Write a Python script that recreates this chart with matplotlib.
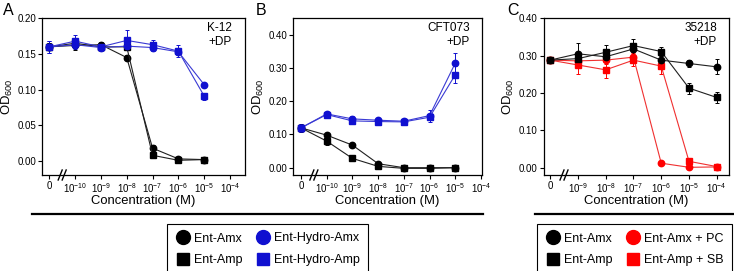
import matplotlib
matplotlib.use("Agg")
import matplotlib.pyplot as plt
from matplotlib.lines import Line2D
import numpy as np

plt.rcParams['font.family'] = ['Liberation Sans', 'DejaVu Sans']
plt.rcParams['mathtext.fontset'] = 'custom'
plt.rcParams['mathtext.rm'] = 'Liberation Sans'
plt.rcParams['mathtext.it'] = 'Liberation Sans:italic'
plt.rcParams['mathtext.bf'] = 'Liberation Sans:bold'

# ---------------- data ----------------
# Panel A (K-12 +DP): x positions 0 -> "0", 1 -> 1e-10 ... 6 -> 1e-5
a_ticklabels = ['0', r'10$^{-10}$', r'10$^{-9}$', r'10$^{-8}$', r'10$^{-7}$',
                r'10$^{-6}$', r'10$^{-5}$', r'10$^{-4}$']
a_amx = [0.160, 0.162, 0.163, 0.145, 0.018, 0.003, 0.002]
a_amx_err = [0.005, 0.006, 0.004, 0.004, 0.004, 0.002, 0.001]
a_amp = [0.160, 0.165, 0.160, 0.160, 0.008, 0.001, 0.002]
a_amp_err = [0.005, 0.005, 0.004, 0.005, 0.003, 0.001, 0.001]
a_hamx = [0.160, 0.163, 0.159, 0.161, 0.159, 0.153, 0.107]
a_hamx_err = [0.008, 0.006, 0.005, 0.004, 0.005, 0.005, 0.002]
a_hamp = [0.160, 0.168, 0.160, 0.169, 0.163, 0.154, 0.091]
a_hamp_err = [0.008, 0.009, 0.005, 0.014, 0.006, 0.008, 0.005]

# Panel B (CFT073 +DP)
b_ticklabels = a_ticklabels
b_amx = [0.120, 0.098, 0.068, 0.012, 0.000, 0.000, 0.000]
b_amx_err = [0.010, 0.005, 0.005, 0.004, 0.002, 0.002, 0.002]
b_amp = [0.120, 0.080, 0.028, 0.004, -0.002, -0.002, 0.000]
b_amp_err = [0.010, 0.013, 0.005, 0.003, 0.002, 0.002, 0.002]
b_hamx = [0.120, 0.162, 0.147, 0.143, 0.140, 0.157, 0.315]
b_hamx_err = [0.012, 0.005, 0.008, 0.005, 0.006, 0.018, 0.030]
b_hamp = [0.120, 0.160, 0.141, 0.139, 0.138, 0.152, 0.280]
b_hamp_err = [0.012, 0.005, 0.006, 0.005, 0.005, 0.008, 0.025]

# Panel C (35218 +DP): x positions 0 -> "0", 1 -> 1e-9 ... 6 -> 1e-4
c_ticklabels = ['0', r'10$^{-9}$', r'10$^{-8}$', r'10$^{-7}$', r'10$^{-6}$',
                r'10$^{-5}$', r'10$^{-4}$']
c_amx = [0.288, 0.305, 0.297, 0.318, 0.288, 0.279, 0.270]
c_amx_err = [0.006, 0.028, 0.010, 0.015, 0.010, 0.010, 0.020]
c_amp = [0.288, 0.292, 0.309, 0.327, 0.311, 0.213, 0.188]
c_amp_err = [0.006, 0.012, 0.020, 0.017, 0.012, 0.015, 0.015]
c_amx_pc = [0.288, 0.286, 0.288, 0.296, 0.012, 0.001, 0.002]
c_amx_pc_err = [0.006, 0.010, 0.010, 0.010, 0.005, 0.003, 0.003]
c_amp_sb = [0.288, 0.275, 0.262, 0.288, 0.272, 0.017, 0.003]
c_amp_sb_err = [0.006, 0.025, 0.022, 0.015, 0.022, 0.005, 0.003]

legend1_labels = ['Ent-Amx', 'Ent-Amp', 'Ent-Hydro-Amx', 'Ent-Hydro-Amp']
legend2_labels = ['Ent-Amx', 'Ent-Amp', 'Ent-Amx + PC', 'Ent-Amp + SB']

BLUE = '#1010d0'
BLUE_L = '#3a3ad4'
RED = '#ff0000'
RED_L = '#f03030'
BLACK = '#000000'
BLACK_L = '#202020'

W, H = 734, 271
fig = plt.figure(figsize=(W / 100, H / 100), dpi=100)


def axes_px(left, right, top, bottom):
    return fig.add_axes([left / W, 1 - bottom / H, (right - left) / W, (bottom - top) / H])


def series(ax, y, err, marker, mcolor, lcolor):
    x = np.arange(len(y))
    ax.errorbar(x, y, yerr=err, fmt='-', marker=marker, color=lcolor, mfc=mcolor,
                mec=mcolor, ecolor=mcolor, elinewidth=0.7, capsize=1.3, capthick=0.7,
                lw=0.8, markersize=4.6 if marker == 'o' else 4.4, clip_on=False, zorder=3)


def style(ax, xlim, ylim, yticks, ticklabels, note):
    ax.set_xlim(*xlim)
    ax.set_ylim(*ylim)
    ax.set_yticks(yticks)
    ax.set_yticklabels(['%.2f' % v for v in yticks])
    ax.set_xticks(np.arange(len(ticklabels)))
    ax.set_xticklabels(ticklabels)
    ax.tick_params(direction='out', length=3, width=0.8, labelsize=7.0, pad=1.5)
    for s in ax.spines.values():
        s.set_linewidth(0.9)
    ax.set_xlabel('Concentration (M)', fontsize=9.4, labelpad=0)
    ax.set_ylabel(r'OD$_{600}$', fontsize=9.4, labelpad=2)
    ax.text(0.935, 0.975, note, transform=ax.transAxes, ha='right', va='top',
            fontsize=8.5, linespacing=1.15)
    # axis break marks "//" at x = 0.5
    bb = ax.get_position()
    wpx = bb.width * W
    hpx = bb.height * H
    xc = (0.5 - xlim[0]) / (xlim[1] - xlim[0])
    for dx in (-2.0, 2.0):
        x0 = xc + (dx - 2.0) / wpx
        x1 = xc + (dx + 2.0) / wpx
        ax.plot([x0, x1], [-5.0 / hpx, 5.0 / hpx], transform=ax.transAxes,
                color='k', lw=1.0, clip_on=False, zorder=5)


# ---------- Panel A ----------
axA = axes_px(42.3, 245, 18.3, 175)
series(axA, a_amx, a_amx_err, 'o', BLACK, BLACK_L)
series(axA, a_amp, a_amp_err, 's', BLACK, BLACK_L)
series(axA, a_hamx, a_hamx_err, 'o', BLUE, BLUE_L)
series(axA, a_hamp, a_hamp_err, 's', BLUE, BLUE_L)
style(axA, (-0.27, 7.58), (-0.0196, 0.20), [0.00, 0.05, 0.10, 0.15, 0.20],
      a_ticklabels, 'K-12\n+DP')

# ---------- Panel B ----------
axB = axes_px(293.3, 482, 18.3, 175)
series(axB, b_amx, b_amx_err, 'o', BLACK, BLACK_L)
series(axB, b_amp, b_amp_err, 's', BLACK, BLACK_L)
series(axB, b_hamx, b_hamx_err, 'o', BLUE, BLUE_L)
series(axB, b_hamp, b_hamp_err, 's', BLUE, BLUE_L)
style(axB, (-0.30, 7.04), (-0.022, 0.45), [0.00, 0.10, 0.20, 0.30, 0.40],
      b_ticklabels, 'CFT073\n+DP')

# ---------- Panel C ----------
axC = axes_px(544, 729, 18.3, 175)
series(axC, c_amx_pc, c_amx_pc_err, 'o', RED, RED_L)
series(axC, c_amp_sb, c_amp_sb_err, 's', RED, RED_L)
series(axC, c_amx, c_amx_err, 'o', BLACK, BLACK_L)
series(axC, c_amp, c_amp_err, 's', BLACK, BLACK_L)
style(axC, (-0.22, 6.44), (-0.0196, 0.40), [0.00, 0.10, 0.20, 0.30, 0.40],
      c_ticklabels, '35218\n+DP')

# panel letters
for x, letter in ((3, 'A'), (256, 'B'), (507, 'C')):
    fig.text(x / W, 1 - 3 / H, letter, ha='left', va='top', fontsize=11.5)

# separator lines
fig.add_artist(Line2D([32 / W, 483 / W], [1 - 214 / H] * 2, transform=fig.transFigure,
                      color='k', lw=1.6))
fig.add_artist(Line2D([535 / W, 734 / W], [1 - 214 / H] * 2, transform=fig.transFigure,
                      color='k', lw=1.6))


def legend_handles(c2):
    return [Line2D([], [], marker='o', color=BLACK, ls='none', markersize=10),
            Line2D([], [], marker='s', color=BLACK, ls='none', markersize=9),
            Line2D([], [], marker='o', color=c2, ls='none', markersize=10),
            Line2D([], [], marker='s', color=c2, ls='none', markersize=9)]


for handles, labels, x0 in ((legend_handles(BLUE), legend1_labels, 167),
                            (legend_handles(RED), legend2_labels, 537)):
    leg = fig.legend(handles, labels, ncol=2, loc='upper left',
                     bbox_to_anchor=(x0 / W, 1 - 224 / H), borderaxespad=0,
                     frameon=True, fancybox=False, edgecolor='black', framealpha=1,
                     fontsize=9, handlelength=1.2, handletextpad=0.3,
                     columnspacing=1.0, labelspacing=0.75, borderpad=0.68)
    leg.get_frame().set_linewidth(0.8)

fig.savefig('out.png', dpi=100)
